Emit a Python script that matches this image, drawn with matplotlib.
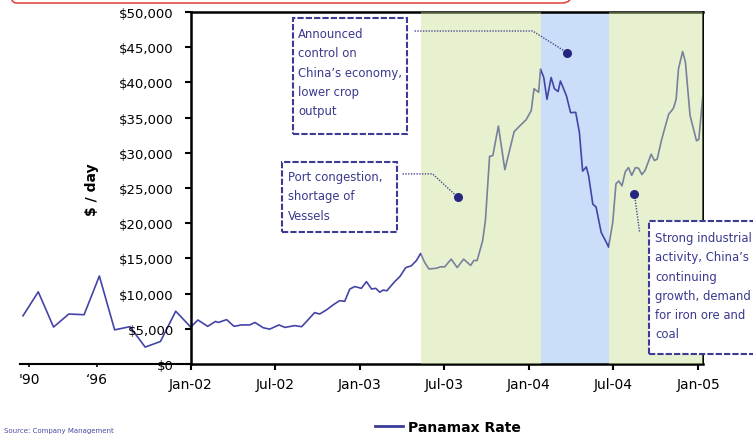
import matplotlib
matplotlib.use("Agg")
import matplotlib.pyplot as plt
import matplotlib.dates as mdates
from matplotlib.patches import Rectangle, FancyBboxPatch
from matplotlib.lines import Line2D
from matplotlib.ticker import FuncFormatter
import numpy as np
import pandas as pd

# ---------------- data ----------------
early_labels = ["'90", "\u201896"]
early_rates = [6850, 10250, 5250, 7100, 7000, 12500, 4850, 5300, 2400, 3200, 7500, 5200]

dates = [
    "2002-01-02", "2002-01-16", "2002-02-06", "2002-02-23", "2002-03-01", "2002-03-19",
    "2002-04-04", "2002-04-20", "2002-05-08", "2002-05-19", "2002-06-06", "2002-06-20",
    "2002-07-10", "2002-07-23", "2002-08-13", "2002-08-28", "2002-09-07", "2002-09-25",
    "2002-10-06", "2002-10-21", "2002-11-04", "2002-11-18", "2002-11-29", "2002-12-10",
    "2002-12-21", "2003-01-04", "2003-01-15", "2003-01-26", "2003-02-04", "2003-02-13",
    "2003-02-20", "2003-02-28", "2003-03-17", "2003-03-28", "2003-04-10", "2003-04-22",
    "2003-05-03", "2003-05-12", "2003-05-21", "2003-05-30", "2003-06-15", "2003-06-24",
    "2003-07-03", "2003-07-17", "2003-07-30", "2003-08-13", "2003-08-28", "2003-09-04",
    "2003-09-11", "2003-09-23", "2003-09-29", "2003-10-08", "2003-10-15", "2003-10-27",
    "2003-11-10", "2003-11-30", "2003-12-15", "2003-12-26", "2004-01-06", "2004-01-12",
    "2004-01-22", "2004-01-26", "2004-02-02", "2004-02-09", "2004-02-18", "2004-02-25",
    "2004-03-04", "2004-03-09", "2004-03-22", "2004-03-31", "2004-04-11", "2004-04-19",
    "2004-04-26", "2004-05-04", "2004-05-09", "2004-05-18", "2004-05-25", "2004-06-05",
    "2004-06-16", "2004-06-21", "2004-06-30", "2004-07-07", "2004-07-13", "2004-07-20",
    "2004-07-27", "2004-08-03", "2004-08-10", "2004-08-18", "2004-08-25", "2004-09-01",
    "2004-09-08", "2004-09-21", "2004-09-28", "2004-10-04", "2004-10-13", "2004-10-20",
    "2004-10-29", "2004-11-08", "2004-11-14", "2004-11-19", "2004-11-28", "2004-12-04",
    "2004-12-14", "2004-12-28", "2005-01-02", "2005-01-11",
]
rates = [
    5350, 6250, 5350, 6050, 5900, 6300,
    5350, 5550, 5550, 5900, 5150, 4950,
    5550, 5200, 5450, 5300, 6000, 7300,
    7100, 7700, 8400, 9000, 8900, 10650,
    11000, 10750, 11700, 10650, 10750, 10200,
    10500, 10400, 11700, 12400, 13700, 13950,
    14700, 15700, 14400, 13500, 13600, 13800,
    13800, 14900, 13700, 14900, 14000, 14700,
    14700, 17500, 20400, 29500, 29600, 33800,
    27600, 33000, 34000, 34700, 36000, 39100,
    38600, 41900, 40700, 37600, 40700, 39100,
    38700, 40200, 38100, 35700, 35750, 32900,
    27400, 28000, 26700, 22700, 22300, 18700,
    17300, 16600, 20100, 25600, 26000, 25300,
    27300, 27900, 26800, 27900, 27800, 26900,
    27500, 29800, 28900, 29100, 31700, 33400,
    35500, 36300, 37600, 41900, 44400, 42900,
    35300, 31700, 31900, 38400,
]

period_edges = ["2003-05-12", "2004-01-28", "2004-06-21", "2005-01-11"]

notes = [
    "Announced\ncontrol on\nChina\u2019s economy,\nlower crop\noutput",
    "Port congestion,\nshortage of\nVessels",
    "Strong industrial\nactivity, China\u2019s\ncontinuing\ngrowth, demand\nfor iron ore and\ncoal",
]
note_dates = ["2004-03-24", "2003-07-31", "2004-08-16"]
note_values = [44200, 23700, 24100]

series_name = "Panamax Rate"
y_label = "$ / day"
source = "Source: Company Management"

# ---------------- styling ----------------
W, H = 753, 435
LINE = "#4444a8"
NAVY = "#262680"
TXT = "#3a3a8e"
GREEN_OV = "#c5de89"
BLUE = "#cbdef9"

plt.rcParams["font.family"] = ["DejaVu Sans"]

fig = plt.figure(figsize=(W / 100, H / 100), dpi=100)


def fx(x):
    return x / W


def fy(y):
    return 1 - y / H


# main axes
ax = fig.add_axes([fx(191), fy(365), fx(703) - fx(191), fy(13) - fy(365)])
ax.set_facecolor("none")
# left (historical) axes
axl = fig.add_axes([fx(20), fy(365), fx(191) - fx(20), fy(13) - fy(365)], zorder=-1)
axl.patch.set_visible(False)

# left part
xe = np.arange(len(early_rates))
axl.plot(xe, early_rates, color=LINE, lw=1.2)
axl.set_xlim(-0.196, len(early_rates) - 1)
axl.set_ylim(0, 50000)
for s in ["left", "top", "right"]:
    axl.spines[s].set_visible(False)
axl.spines["bottom"].set_linewidth(1.5)
axl.set_yticks([])
axl.set_xticks([0.39, 4.85])
axl.set_xticklabels(early_labels)
axl.tick_params(axis="x", direction="out", length=2.5, width=1.2, pad=3.5, labelsize=10)

# main series
d = pd.to_datetime(dates)
ax.plot(d, rates, color=LINE, lw=1.2, zorder=2)

e = pd.to_datetime(period_edges)
ax.axvspan(e[1], e[2], color=BLUE, zorder=0.5, lw=0)
ax.axvspan(e[0], e[1], color=GREEN_OV, alpha=0.4, zorder=3, lw=0)
ax.axvspan(e[2], e[3], color=GREEN_OV, alpha=0.4, zorder=3, lw=0)

ax.set_xlim(pd.Timestamp("2002-01-01"), e[3])
ax.set_ylim(0, 50000)
ax.set_yticks(np.arange(0, 50001, 5000))
ax.yaxis.set_major_formatter(FuncFormatter(lambda v, p: f"${v:,.0f}"))
ax.set_xticks(pd.date_range("2002-01-01", "2005-01-01", freq="6MS"))
ax.xaxis.set_major_formatter(mdates.DateFormatter("%b-%y"))
ax.tick_params(axis="x", direction="out", length=4.5, width=1.5, pad=5, labelsize=10)
ax.tick_params(axis="y", direction="out", length=4.5, width=1.5, pad=8, labelsize=9.5)
for s in ["left", "bottom", "top"]:
    ax.spines[s].set_linewidth(1.8)
ax.spines["right"].set_linewidth(1.4)

ax.set_ylabel(y_label, fontsize=10, fontweight="bold")
ax.yaxis.set_label_coords(-0.18, 0.497)

# annotation dots and leaders
nd = pd.to_datetime(note_dates)
ax.plot(nd, note_values, "o", color=NAVY, ms=5.5, zorder=6, clip_on=False)
lead_style = dict(color="#4a4a90", lw=1.0, ls=(0, (1, 1)), zorder=5)
ax.plot([pd.Timestamp("2003-04-29"), pd.Timestamp("2004-01-09"), nd[0]],
        [47300, 47300, note_values[0]], **lead_style)
ax.plot([pd.Timestamp("2003-04-03"), pd.Timestamp("2003-06-07"), nd[1]],
        [27000, 27000, note_values[1]], **lead_style)
ax.plot([nd[2], pd.Timestamp("2004-08-27")], [note_values[2], 18750], **lead_style)

# note boxes (pixel geometry)
boxes = [(293, 19, 407, 135), (282, 163, 397, 233), (649, 222, 765, 355)]
text_origin = [(298, 28), (288, 171), (655, 232)]
for (x0, y0, x1, y1), (tx, ty), note in zip(boxes, text_origin, notes):
    r = Rectangle((x0 / 100, (H - y1) / 100), (x1 - x0) / 100, (y1 - y0) / 100,
                  transform=fig.dpi_scale_trans, facecolor="white",
                  edgecolor="#3c3c96", lw=1.5, ls=(0, (3, 1)), zorder=10)
    fig.add_artist(r)
    for i, line in enumerate(note.split("\n")):
        fig.text(fx(tx), fy(ty + i * 19.3), line, color=TXT, fontsize=8.4,
                 ha="left", va="top", zorder=11)

# red rounded frame at top (bottom edge of slide box)
frame = FancyBboxPatch((0.06, (H - 4) / 100), 5.66, 0.6,
                       boxstyle="round,pad=0,rounding_size=0.1",
                       transform=fig.dpi_scale_trans, fill=False,
                       edgecolor="#e03c3c", lw=1.1, clip_on=False)
fig.add_artist(frame)

# legend
fig.legend(handles=[Line2D([], [], color="#3c3c9c", lw=2)], labels=[series_name],
           loc="center", bbox_to_anchor=(fx(448), fy(428)), frameon=False,
           prop=dict(weight="bold", size=10), handlelength=2.0, handletextpad=0.35,
           borderpad=0, borderaxespad=0)

# source (at the bottom edge, as in the reference)
fig.text(fx(4), fy(428), source, fontsize=5, color="#4a4aa0", ha="left", va="top")

fig.savefig("out.png", dpi=100)
